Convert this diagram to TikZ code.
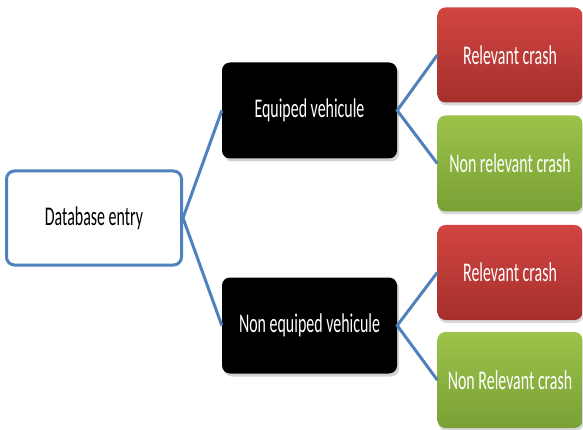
\documentclass[tikz,border=0pt]{standalone}
\usepackage{fontspec}
\setmainfont{Carlito}
\usepackage{graphicx}
\usetikzlibrary{shadows}
\definecolor{boxblue}{HTML}{4F81BD}
\definecolor{redtop}{HTML}{D24541}
\definecolor{redbot}{HTML}{A52F2C}
\definecolor{greentop}{HTML}{9DC34B}
\definecolor{greenbot}{HTML}{79A034}
\newcommand\narrow[1]{\scalebox{0.59}[1]{#1}}
\tikzset{
    tbox/.style={rounded corners=8pt, inner sep=0pt, align=center,
        font=\fontsize{27}{32}\selectfont},
    rootbox/.style={tbox, draw=boxblue, line width=3pt, fill=white,
        minimum width=175pt, minimum height=94pt},
    vehbox/.style={tbox, fill=black, text=white, minimum width=175pt, minimum height=96pt,
        drop shadow={shadow xshift=2pt, shadow yshift=-3pt, opacity=0.35}},
    relbox/.style={tbox, top color=redtop, bottom color=redbot, text=white,
        minimum width=145pt, minimum height=95pt,
        drop shadow={shadow xshift=1pt, shadow yshift=-3pt, opacity=0.3}},
    nonrelbox/.style={tbox, top color=greentop, bottom color=greenbot, text=white,
        minimum width=145pt, minimum height=96pt,
        drop shadow={shadow xshift=1pt, shadow yshift=-3pt, opacity=0.3}},
    branch/.style={draw=boxblue, line width=3pt}
}
\begin{document}
\begin{tikzpicture}[x=1pt, y=-1pt]
    \useasboundingbox (0,0) rectangle (583,430);
    \node[rootbox] (entry) at (94,218) {\narrow{Database entry}};
    \node[vehbox] (equip) at (309.5,110.5) {\narrow{Equiped vehicule}};
    \node[vehbox] (nonequip) at (309.5,325.5) {\narrow{Non equiped vehicule}};
    \node[relbox] (rel1) at (510,55) {\narrow{Relevant crash}};
    \node[nonrelbox] (nonrel1) at (510,163.5) {\narrow{Non relevant crash}};
    \node[relbox] (rel2) at (510,272.5) {\narrow{Relevant crash}};
    \node[nonrelbox] (nonrel2) at (510,380) {\narrow{Non Relevant crash}};
    \draw[branch] (equip.west) -- (entry.east) -- (nonequip.west);
    \draw[branch] (rel1.west) -- (equip.east) -- (nonrel1.west);
    \draw[branch] (rel2.west) -- (nonequip.east) -- (nonrel2.west);
\end{tikzpicture}
\end{document}
